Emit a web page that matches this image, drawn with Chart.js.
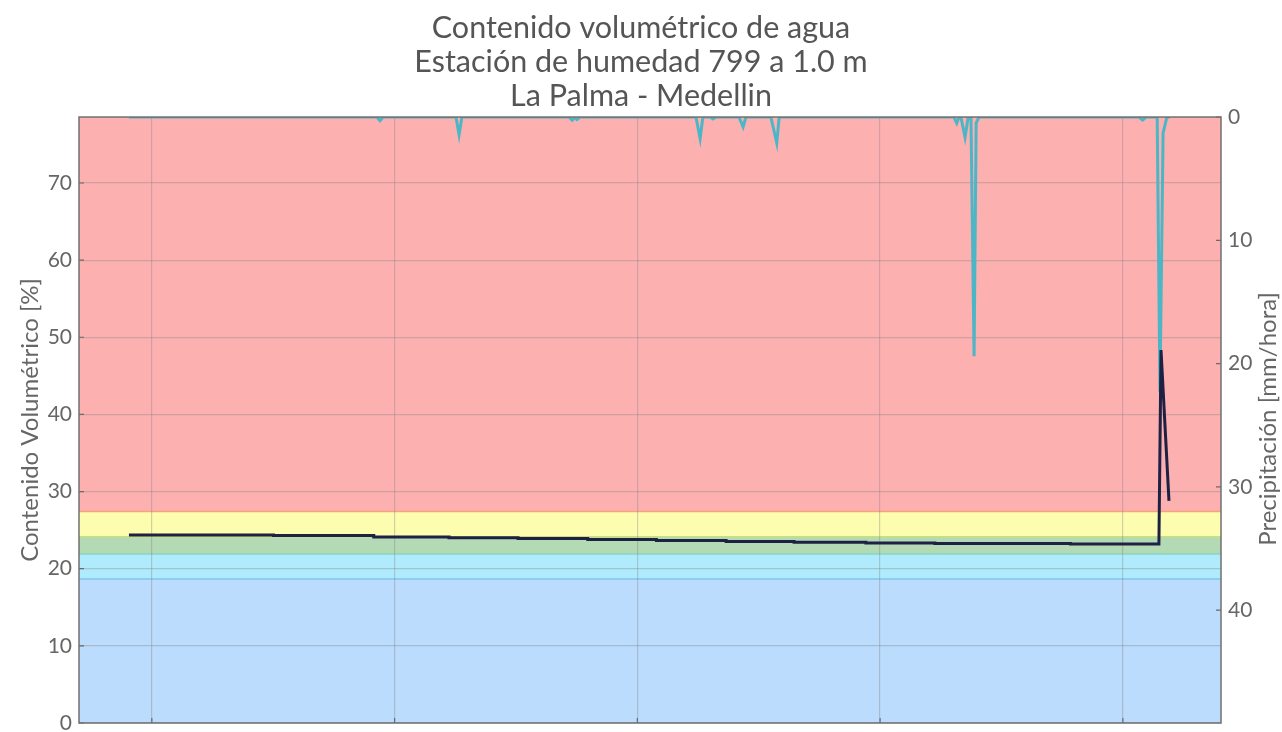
<!DOCTYPE html>
<html><head><meta charset="utf-8">
<script src="https://cdn.jsdelivr.net/npm/chart.js@4.4.0/dist/chart.umd.min.js"></script>
<style>html,body{margin:0;padding:0;background:#fff}#wrap{width:1282px;height:732px}</style>
</head><body><div id="wrap"><canvas id="c" width="1282" height="732"></canvas></div>
<script>
// ---- data ----
const titleLines = ['Contenido volumétrico de agua', 'Estación de humedad 799 a 1.0 m', 'La Palma - Medellin'];
const leftAxisTitle = 'Contenido Volumétrico [%]';
const rightAxisTitle = 'Precipitación [mm/hora]';

// soil water content [%] (days since start of window)
const soilDays = [1.44, 5.61, 5.61, 8.50, 8.50, 10.67, 10.67, 12.66, 12.66, 14.67, 14.67, 16.65, 16.65,
  18.66, 18.66, 20.62, 20.62, 22.69, 22.69, 24.68, 24.68, 28.59, 28.59, 31.14, 31.20, 31.43];
const soilValues = [24.37, 24.37, 24.29, 24.29, 24.10, 24.10, 24.00, 24.00, 23.92, 23.92, 23.79, 23.79, 23.65,
  23.65, 23.52, 23.52, 23.42, 23.42, 23.33, 23.33, 23.28, 23.28, 23.20, 23.20, 48.35, 28.80];

// precipitation [mm/hora]
const rainDays = [1.44, 8.59, 8.68, 8.77, 10.87, 10.96, 11.04, 14.13, 14.22, 14.30, 14.36, 14.45,
  17.79, 17.91, 17.99, 18.20, 18.28, 18.37, 19.03, 19.15, 19.23, 19.95, 20.12, 20.19,
  25.23, 25.31, 25.38, 25.43, 25.55, 25.64, 25.72, 25.81, 25.87, 25.95,
  30.57, 30.67, 30.77, 31.09, 31.17, 31.26, 31.37, 31.46];
const rainValues = [0, 0, 0.3, 0, 0, 1.45, 0, 0, 0.25, 0.05, 0.2, 0,
  0, 1.75, 0, 0, 0.15, 0, 0, 0.8, 0, 0, 2.1, 0,
  0, 0.5, 0, 0, 1.65, 0, 0, 19.4, 0.5, 0,
  0, 0.25, 0, 0, 22.3, 1.3, 0, 0];

// axes
const xRange = [0, 32.93];
const xGridDays = [2.1, 9.1, 16.1, 23.1, 30.1];
const leftRange = [0, 78.55];
const leftTicks = [0, 10, 20, 30, 40, 50, 60, 70];
const rightRange = [0, 49.15];
const rightTicks = [0, 10, 20, 30, 40];

// moisture classes (lower limits .. upper limit) [%]
const bandLimits = [0, 18.67, 21.9, 24.15, 27.4, 78.55];

// ---- styles ----
const bandFill = ['#bbdcfd', '#b0ebfd', '#b3dab4', '#fdfdb0', '#fdb0b0'];
const bandEdge = ['#7cc6f4', '#86d6c0', '#c8e07c', '#f7a27a'];
const FONT = 'Lato, "Open Sans", sans-serif';

const bgPlugin = {
  id: 'bands',
  beforeDraw(chart) {
    const {ctx, chartArea: a, scales} = chart;
    const y = scales.y;
    ctx.save();
    for (let i = 0; i < bandFill.length; i++) {
      const top = y.getPixelForValue(bandLimits[i + 1]);
      const bot = y.getPixelForValue(bandLimits[i]);
      ctx.fillStyle = bandFill[i];
      ctx.fillRect(a.left, top, a.right - a.left, bot - top);
    }
    ctx.lineWidth = 1.5;
    for (let i = 0; i < bandEdge.length; i++) {
      const p = y.getPixelForValue(bandLimits[i + 1]);
      ctx.strokeStyle = bandEdge[i];
      ctx.beginPath(); ctx.moveTo(a.left, p); ctx.lineTo(a.right, p); ctx.stroke();
    }
    ctx.restore();
  },
  afterDraw(chart) {
    const {ctx, chartArea: a, scales} = chart;
    ctx.save();
    // inward tick marks
    ctx.strokeStyle = '#6a6a6a';
    ctx.lineWidth = 1.2;
    ctx.beginPath();
    leftTicks.forEach(v => { const p = scales.y.getPixelForValue(v); ctx.moveTo(a.left, p); ctx.lineTo(a.left + 5, p); });
    rightTicks.forEach(v => { const p = scales.y2.getPixelForValue(v); ctx.moveTo(a.right, p); ctx.lineTo(a.right - 5, p); });
    xGridDays.forEach(v => { const p = scales.x.getPixelForValue(v); ctx.moveTo(p, a.bottom); ctx.lineTo(p, a.bottom - 5); });
    ctx.stroke();
    // frame
    ctx.strokeStyle = '#707070';
    ctx.lineWidth = 1.5;
    ctx.strokeRect(a.left, a.top, a.right - a.left, a.bottom - a.top);
    // right axis title (reads bottom to top)
    ctx.fillStyle = '#666';
    ctx.font = '24px ' + FONT;
    ctx.textAlign = 'center';
    ctx.textBaseline = 'middle';
    ctx.translate(1268, 419);
    ctx.rotate(-Math.PI / 2);
    ctx.fillText(rightAxisTitle, 0, 0);
    ctx.restore();
  }
};

const gridColor = 'rgba(130,130,130,0.36)';

new Chart(document.getElementById('c'), {
  type: 'line',
  data: {
    datasets: [
      {
        label: 'Contenido volumétrico',
        data: soilDays.map((d, i) => ({x: d, y: soilValues[i]})),
        yAxisID: 'y',
        borderColor: '#1e2144',
        borderWidth: 3,
        pointRadius: 0,
        tension: 0
      },
      {
        label: 'Precipitación',
        data: rainDays.map((d, i) => ({x: d, y: rainValues[i]})),
        yAxisID: 'y2',
        borderColor: '#4db6c6',
        borderWidth: 3,
        pointRadius: 0,
        tension: 0
      }
    ]
  },
  options: {
    responsive: false,
    maintainAspectRatio: false,
    devicePixelRatio: 1,
    animation: false,
    layout: {padding: {left: 0, right: 0, top: 0, bottom: 9}},
    plugins: {
      legend: {display: false},
      tooltip: {enabled: false},
      title: {
        display: true,
        text: titleLines,
        color: '#555',
        font: {family: FONT, size: 30.5, weight: 'normal', lineHeight: 1.115},
        padding: {top: 11, bottom: 4}
      }
    },
    scales: {
      x: {
        type: 'linear',
        min: xRange[0], max: xRange[1],
        afterBuildTicks: s => { s.ticks = xGridDays.map(v => ({value: v})); },
        afterFit: s => { s.height = 0; },
        ticks: {display: false},
        grid: {color: gridColor, lineWidth: 1.2, drawTicks: false},
        border: {display: false}
      },
      y: {
        position: 'left',
        min: leftRange[0], max: leftRange[1],
        afterBuildTicks: s => { s.ticks = leftTicks.map(v => ({value: v})); },
        afterFit: s => { s.width = 79; s.paddingTop = 0; s.paddingBottom = 0; },
        ticks: {color: '#666', font: {family: FONT, size: 21}, padding: 7},
        grid: {color: gridColor, lineWidth: 1.2, drawTicks: false},
        border: {display: false},
        title: {display: true, text: leftAxisTitle, color: '#666', font: {family: FONT, size: 24}, padding: {top: 16, bottom: 0}}
      },
      y2: {
        position: 'right',
        reverse: true,
        min: rightRange[0], max: rightRange[1],
        afterBuildTicks: s => { s.ticks = rightTicks.map(v => ({value: v})); },
        afterFit: s => { s.width = 61; s.paddingTop = 0; s.paddingBottom = 0; },
        ticks: {color: '#666', font: {family: FONT, size: 21}, padding: 7},
        grid: {drawOnChartArea: false, drawTicks: false},
        border: {display: false}
      }
    }
  },
  plugins: [bgPlugin]
});
</script>
</body></html>
